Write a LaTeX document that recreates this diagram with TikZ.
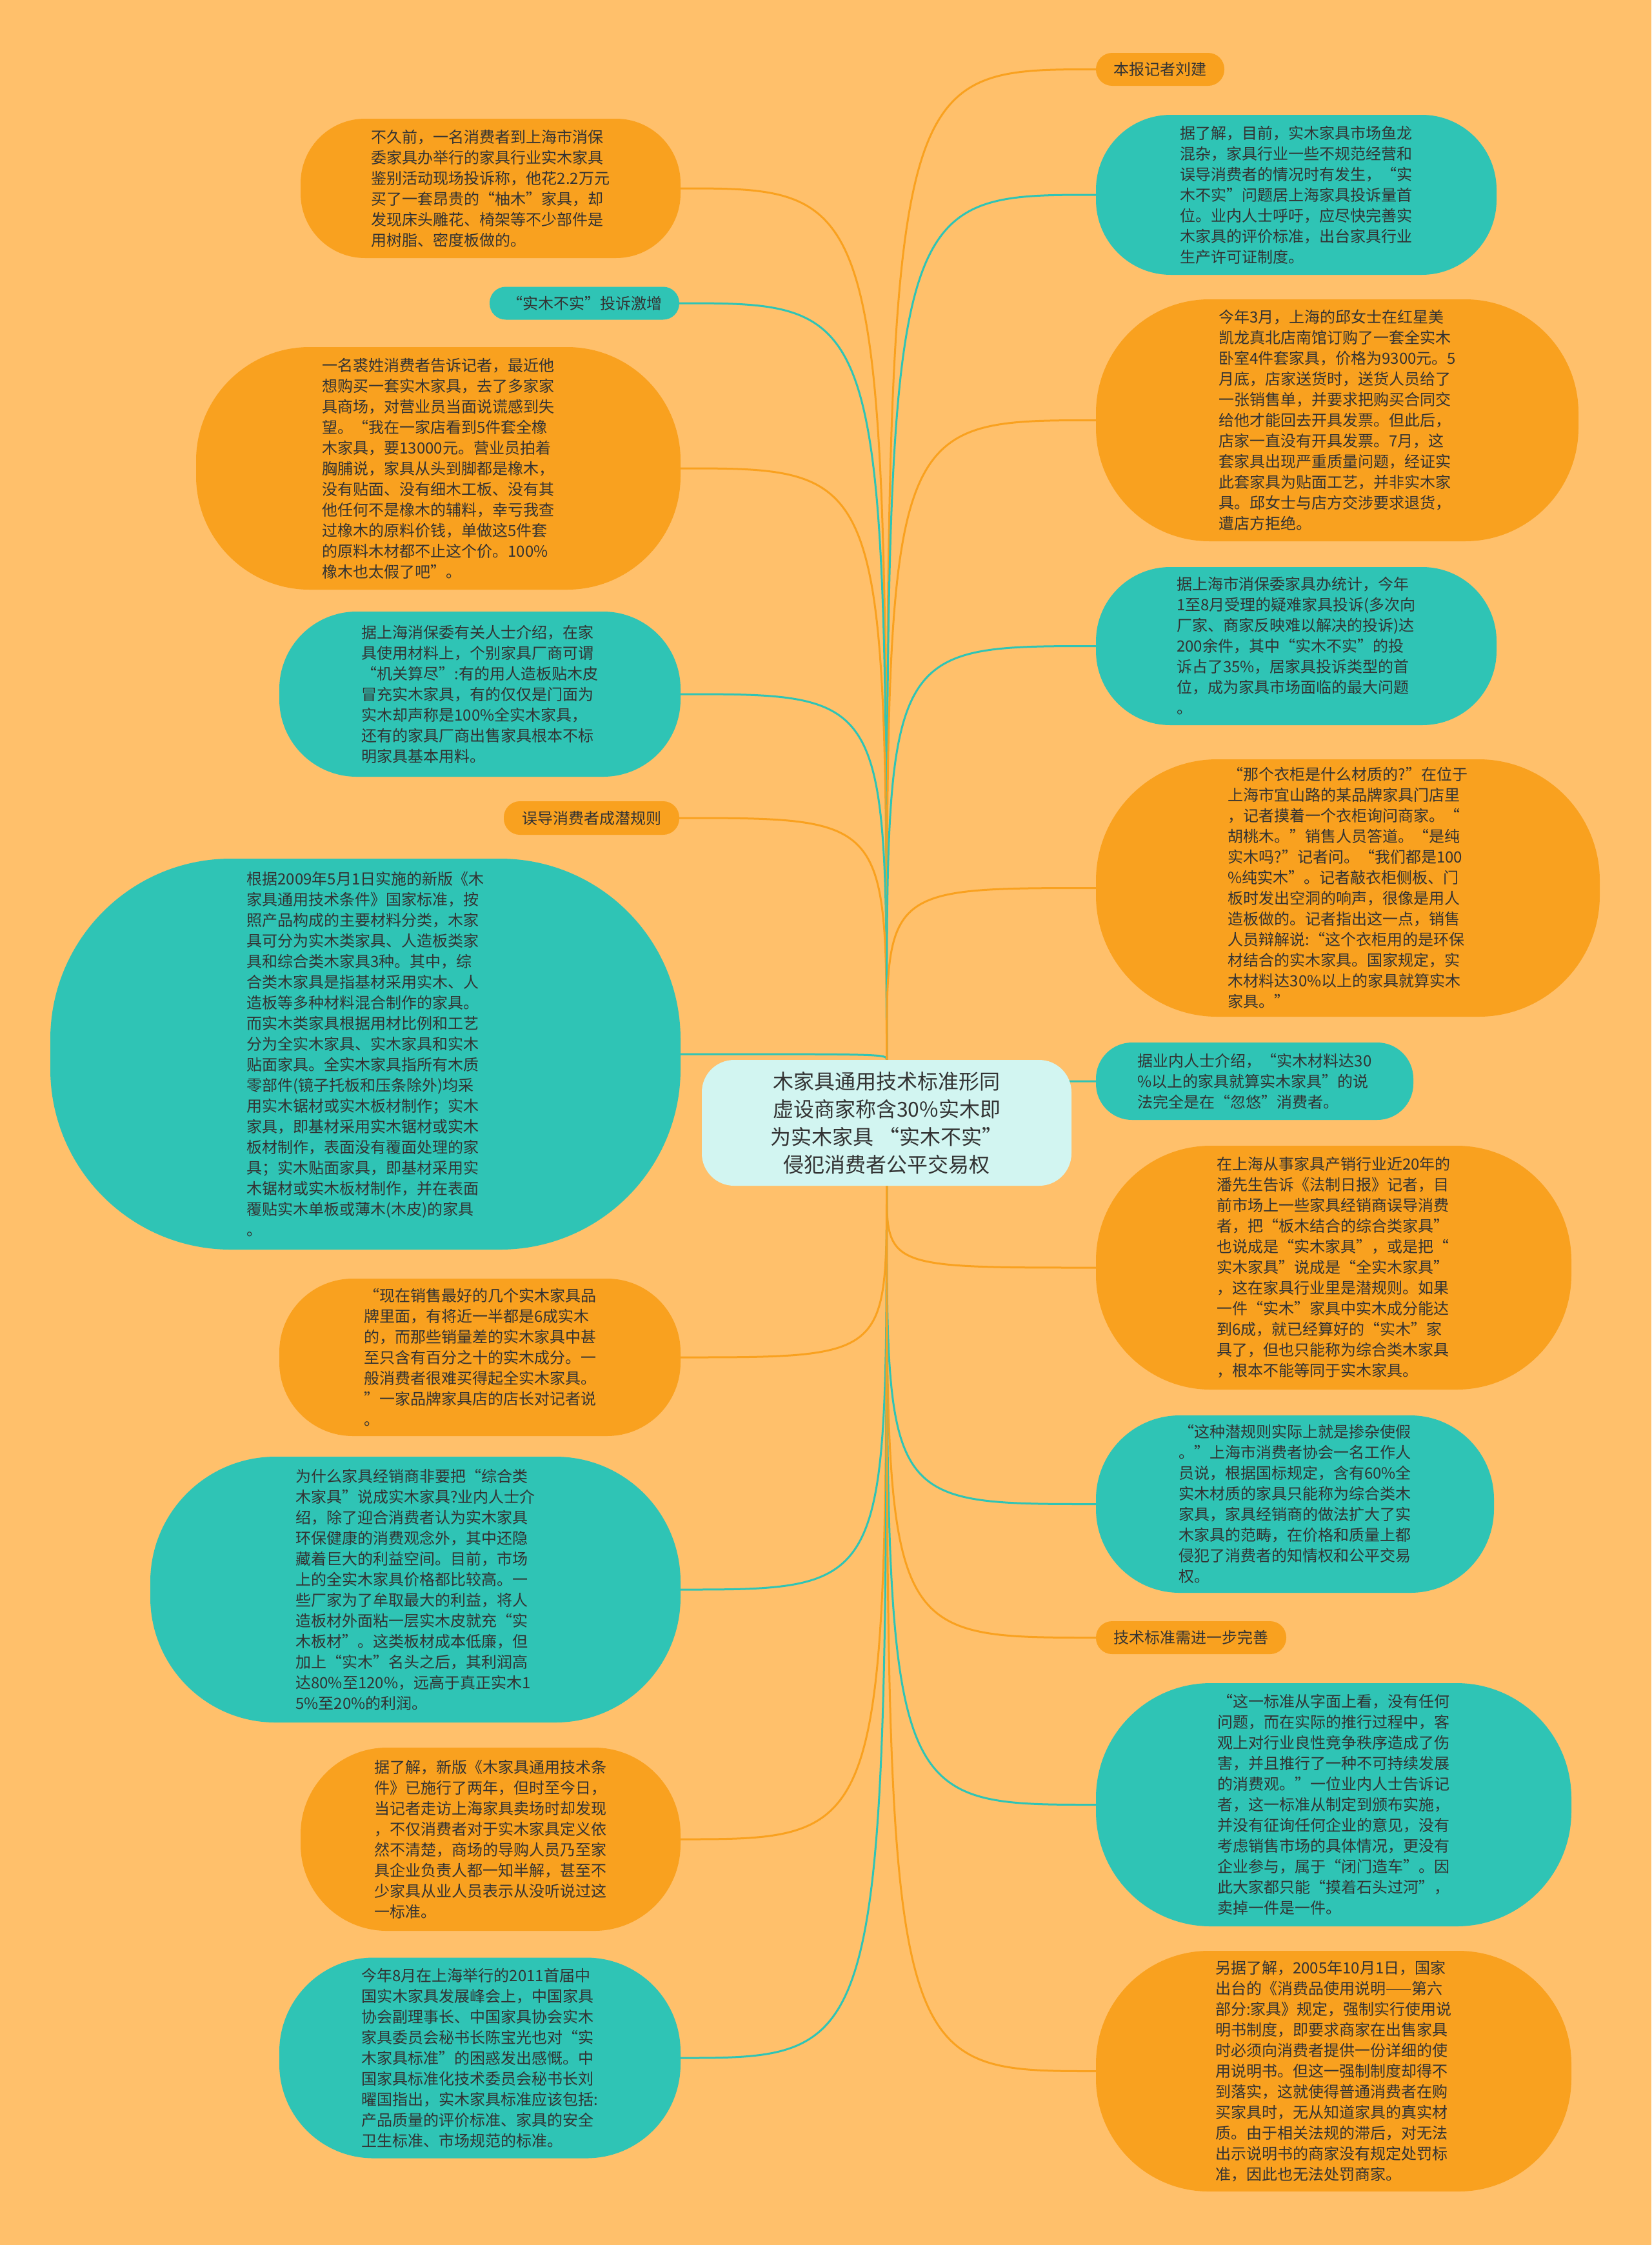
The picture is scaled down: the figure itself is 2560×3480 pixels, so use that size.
\documentclass[tikz,border=0pt]{standalone}
\usepackage{fontspec}
\setmainfont{Noto Sans CJK SC}
\usetikzlibrary{calc}
\pgfdeclarelayer{bg}
\pgfsetlayers{bg,main}
\definecolor{bgc}{HTML}{FFC06B}
\definecolor{orn}{HTML}{F9A11F}
\definecolor{tea}{HTML}{2FC4B5}
\definecolor{centc}{HTML}{D2F5F1}
\definecolor{txt}{HTML}{333333}
\tikzset{
  nbase/.style={inner sep=0pt, align=left, text=txt, font=\fontsize{24}{32}\selectfont},
  obox/.style={nbase, fill=orn},
  tbox/.style={nbase, fill=tea},
  oline/.style={draw=orn, line width=3pt},
  tline/.style={draw=tea, line width=3pt},
}
\begin{document}
\begin{tikzpicture}[x=1pt,y=-1pt]
\begin{pgfonlayer}{bg}
\fill[bgc] (0,0) rectangle (2560,3480);
\end{pgfonlayer}

% center
\node[nbase, align=center, fill=centc, minimum width=573pt, minimum height=195pt, rounded corners=50pt, font=\fontsize{32}{43}\selectfont] (C) at (1374.5,1740.5) {木家具通用技术标准形同\\虚设商家称含30\%实木即\\为实木家具 “实木不实”\\侵犯消费者公平交易权};

% left column
\node[obox, minimum width=589pt, minimum height=216pt, rounded corners=100pt] (L1) at (760.5,292) {不久前，一名消费者到上海市消保\\委家具办举行的家具行业实木家具\\鉴别活动现场投诉称，他花2.2万元\\买了一套昂贵的“柚木”家具，却\\发现床头雕花、椅架等不少部件是\\用树脂、密度板做的。};

\node[tbox, minimum width=294pt, minimum height=51pt, rounded corners=25pt] (T1) at (906,470) {“实木不实”投诉激增};

\node[obox, minimum width=751pt, minimum height=376pt, rounded corners=176pt] (L2) at (679.5,726) {一名裘姓消费者告诉记者，最近他\\想购买一套实木家具，去了多家家\\具商场，对营业员当面说谎感到失\\望。“我在一家店看到5件套全橡\\木家具，要13000元。营业员拍着\\胸脯说，家具从头到脚都是橡木，\\没有贴面、没有细木工板、没有其\\他任何不是橡木的辅料，幸亏我查\\过橡木的原料价钱，单做这5件套\\的原料木材都不止这个价。100\%\\橡木也太假了吧”。};

\node[tbox, minimum width=622pt, minimum height=256pt, rounded corners=120pt] (L3) at (744,1076) {据上海消保委有关人士介绍，在家\\具使用材料上，个别家具厂商可谓\\“机关算尽”:有的用人造板贴木皮\\冒充实木家具，有的仅仅是门面为\\实木却声称是100\%全实木家具，\\还有的家具厂商出售家具根本不标\\明家具基本用料。};

\node[obox, minimum width=272pt, minimum height=52pt, rounded corners=25pt] (T2) at (917,1268) {误导消费者成潜规则};

\node[tbox, minimum width=977pt, minimum height=606pt, rounded corners=280pt] (L4) at (566.5,1634) {根据2009年5月1日实施的新版《木\\家具通用技术条件》国家标准，按\\照产品构成的主要材料分类，木家\\具可分为实木类家具、人造板类家\\具和综合类木家具3种。其中，综\\合类木家具是指基材采用实木、人\\造板等多种材料混合制作的家具。\\而实木类家具根据用材比例和工艺\\分为全实木家具、实木家具和实木\\贴面家具。全实木家具指所有木质\\零部件(镜子托板和压条除外)均采\\用实木锯材或实木板材制作；实木\\家具，即基材采用实木锯材或实木\\板材制作，表面没有覆面处理的家\\具；实木贴面家具，即基材采用实\\木锯材或实木板材制作，并在表面\\覆贴实木单板或薄木(木皮)的家具\\。};

\node[obox, minimum width=622pt, minimum height=244pt, rounded corners=114pt] (L5) at (744,2104) {“现在销售最好的几个实木家具品\\牌里面，有将近一半都是6成实木\\的，而那些销量差的实木家具中甚\\至只含有百分之十的实木成分。一\\般消费者很难买得起全实木家具。\\”一家品牌家具店的店长对记者说\\。};

\node[tbox, minimum width=822pt, minimum height=412pt, rounded corners=194pt] (L6) at (644,2464) {为什么家具经销商非要把“综合类\\木家具”说成实木家具?业内人士介\\绍，除了迎合消费者认为实木家具\\环保健康的消费观念外，其中还隐\\藏着巨大的利益空间。目前，市场\\上的全实木家具价格都比较高。一\\些厂家为了牟取最大的利益，将人\\造板材外面粘一层实木皮就充“实\\木板材”。这类板材成本低廉，但\\加上“实木”名头之后，其利润高\\达80\%至120\%，远高于真正实木1\\5\%至20\%的利润。};

\node[obox, minimum width=589pt, minimum height=284pt, rounded corners=134pt] (L7) at (760.5,2851) {据了解，新版《木家具通用技术条\\件》已施行了两年，但时至今日，\\当记者走访上海家具卖场时却发现\\，不仅消费者对于实木家具定义依\\然不清楚，商场的导购人员乃至家\\具企业负责人都一知半解，甚至不\\少家具从业人员表示从没听说过这\\一标准。};

\node[tbox, minimum width=622pt, minimum height=311pt, rounded corners=146pt] (L8) at (744,3190) {今年8月在上海举行的2011首届中\\国实木家具发展峰会上，中国家具\\协会副理事长、中国家具协会实木\\家具委员会秘书长陈宝光也对“实\\木家具标准”的困惑发出感慨。中\\国家具标准化技术委员会秘书长刘\\曜国指出，实木家具标准应该包括:\\产品质量的评价标准、家具的安全\\卫生标准、市场规范的标准。};

% right column
\node[obox, minimum width=199pt, minimum height=51pt, rounded corners=25pt] (R0) at (1798.5,107.5) {本报记者刘建};

\node[tbox, minimum width=621pt, minimum height=248pt, rounded corners=116pt] (R1) at (2009.5,302) {据了解，目前，实木家具市场鱼龙\\混杂，家具行业一些不规范经营和\\误导消费者的情况时有发生，“实\\木不实”问题居上海家具投诉量首\\位。业内人士呼吁，应尽快完善实\\木家具的评价标准，出台家具行业\\生产许可证制度。};

\node[obox, minimum width=748pt, minimum height=375pt, rounded corners=176pt] (R2) at (2073,651.5) {今年3月，上海的邱女士在红星美\\凯龙真北店南馆订购了一套全实木\\卧室4件套家具，价格为9300元。5\\月底，店家送货时，送货人员给了\\一张销售单，并要求把购买合同交\\给他才能回去开具发票。但此后，\\店家一直没有开具发票。7月，这\\套家具出现严重质量问题，经证实\\此套家具为贴面工艺，并非实木家\\具。邱女士与店方交涉要求退货，\\遭店方拒绝。};

\node[tbox, minimum width=621pt, minimum height=245pt, rounded corners=115pt] (R3) at (2009.5,1001.5) {据上海市消保委家具办统计，今年\\1至8月受理的疑难家具投诉(多次向\\厂家、商家反映难以解决的投诉)达\\200余件，其中“实木不实”的投\\诉占了35\%，居家具投诉类型的首\\位，成为家具市场面临的最大问题\\。};

\node[obox, minimum width=781pt, minimum height=399pt, rounded corners=188pt] (R4) at (2089.5,1376.5) {“那个衣柜是什么材质的?”在位于\\上海市宜山路的某品牌家具门店里\\，记者摸着一个衣柜询问商家。“\\胡桃木。”销售人员答道。“是纯\\实木吗?”记者问。“我们都是100\\\%纯实木”。记者敲衣柜侧板、门\\板时发出空洞的响声，很像是用人\\造板做的。记者指出这一点，销售\\人员辩解说:“这个衣柜用的是环保\\材结合的实木家具。国家规定，实\\木材料达30\%以上的家具就算实木\\家具。”};

\node[tbox, minimum width=492pt, minimum height=120pt, rounded corners=56pt] (R5) at (1945,1676) {据业内人士介绍，“实木材料达30\\\%以上的家具就算实木家具”的说\\法完全是在“忽悠”消费者。};

\node[obox, minimum width=737pt, minimum height=378pt, rounded corners=178pt] (R6) at (2067.5,1965) {在上海从事家具产销行业近20年的\\潘先生告诉《法制日报》记者，目\\前市场上一些家具经销商误导消费\\者，把“板木结合的综合类家具”\\也说成是“实木家具”，或是把“\\实木家具”说成是“全实木家具”\\，这在家具行业里是潜规则。如果\\一件“实木”家具中实木成分能达\\到6成，就已经算好的“实木”家\\具了，但也只能称为综合类木家具\\，根本不能等同于实木家具。};

\node[tbox, minimum width=617pt, minimum height=275pt, rounded corners=130pt] (R7) at (2007.5,2331.5) {“这种潜规则实际上就是掺杂使假\\。”上海市消费者协会一名工作人\\员说，根据国标规定，含有60\%全\\实木材质的家具只能称为综合类木\\家具，家具经销商的做法扩大了实\\木家具的范畴，在价格和质量上都\\侵犯了消费者的知情权和公平交易\\权。};

\node[obox, minimum width=295pt, minimum height=51pt, rounded corners=25pt] (T3) at (1846.5,2538.5) {技术标准需进一步完善};

\node[tbox, minimum width=737pt, minimum height=377pt, rounded corners=178pt] (R8) at (2067.5,2797.5) {“这一标准从字面上看，没有任何\\问题，而在实际的推行过程中，客\\观上对行业良性竞争秩序造成了伤\\害，并且推行了一种不可持续发展\\的消费观。”一位业内人士告诉记\\者，这一标准从制定到颁布实施，\\并没有征询任何企业的意见，没有\\考虑销售市场的具体情况，更没有\\企业参与，属于“闭门造车”。因\\此大家都只能“摸着石头过河”，\\卖掉一件是一件。};

\node[obox, minimum width=737pt, minimum height=373pt, rounded corners=175pt] (R9) at (2067.5,3210.5) {另据了解，2005年10月1日，国家\\出台的《消费品使用说明——第六\\部分:家具》规定，强制实行使用说\\明书制度，即要求商家在出售家具\\时必须向消费者提供一份详细的使\\用说明书。但这一强制制度却得不\\到落实，这就使得普通消费者在购\\买家具时，无从知道家具的真实材\\质。由于相关法规的滞后，对无法\\出示说明书的商家没有规定处罚标\\准，因此也无法处罚商家。};

% connectors
\begin{pgfonlayer}{bg}
\draw[oline] (C.north) .. controls (C.north |- L1.east) .. (L1.east);
\draw[tline] (C.north) .. controls (C.north |- T1.east) .. (T1.east);
\draw[oline] (C.north) .. controls (C.north |- L2.east) .. (L2.east);
\draw[tline] (C.north) .. controls (C.north |- L3.east) .. (L3.east);
\draw[oline] (C.north) .. controls (C.north |- T2.east) .. (T2.east);
\draw[tline] (C.north) .. controls (C.north |- L4.east) .. (L4.east);
\draw[oline] (C.south) .. controls (C.south |- L5.east) .. (L5.east);
\draw[tline] (C.south) .. controls (C.south |- L6.east) .. (L6.east);
\draw[oline] (C.south) .. controls (C.south |- L7.east) .. (L7.east);
\draw[tline] (C.south) .. controls (C.south |- L8.east) .. (L8.east);
\draw[oline] (C.north) .. controls (C.north |- R0.west) .. (R0.west);
\draw[tline] (C.north) .. controls (C.north |- R1.west) .. (R1.west);
\draw[oline] (C.north) .. controls (C.north |- R2.west) .. (R2.west);
\draw[tline] (C.north) .. controls (C.north |- R3.west) .. (R3.west);
\draw[oline] (C.north) .. controls (C.north |- R4.west) .. (R4.west);
\draw[tline] (C.north) .. controls (C.north |- R5.west) .. (R5.west);
\draw[oline] (C.south) .. controls (C.south |- R6.west) .. (R6.west);
\draw[tline] (C.south) .. controls (C.south |- R7.west) .. (R7.west);
\draw[oline] (C.south) .. controls (C.south |- T3.west) .. (T3.west);
\draw[tline] (C.south) .. controls (C.south |- R8.west) .. (R8.west);
\draw[oline] (C.south) .. controls (C.south |- R9.west) .. (R9.west);
\end{pgfonlayer}
\end{tikzpicture}
\end{document}
